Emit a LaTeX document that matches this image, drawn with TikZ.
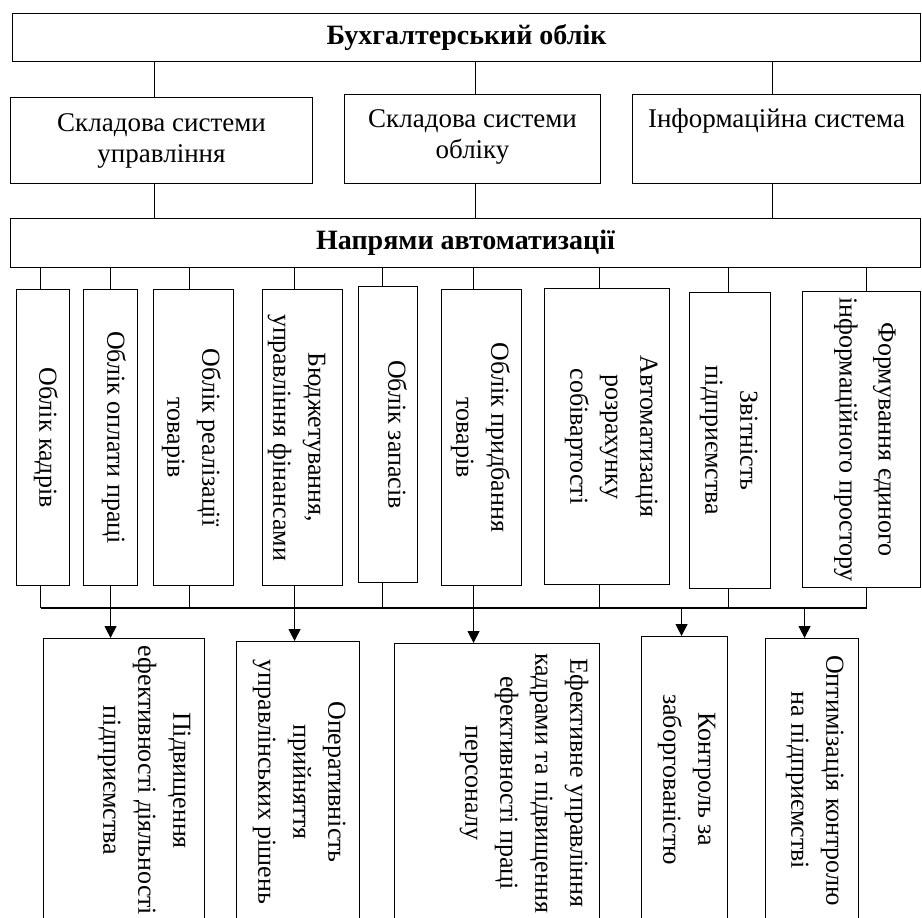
\documentclass[tikz,border=0pt]{standalone}
\usepackage{fontspec}
\setmainfont{Liberation Serif}
\usetikzlibrary{arrows.meta}
\newcommand{\vlab}[1]{\rotatebox{-90}{\begin{tabular}{@{}c@{}}#1\end{tabular}}}
\newcommand{\hlab}[1]{\begin{tabular}[t]{@{}c@{}}#1\end{tabular}}
\begin{document}
\begin{tikzpicture}[x=1pt,y=-1pt,
  every node/.style={inner sep=0pt, font=\fontsize{26}{35}\selectfont},
  box/.style={draw, line width=1.1pt, anchor=north west},
  sz/.style 2 args={minimum width=#1pt, minimum height=#2pt},
  bold/.style={font=\fontsize{28}{32}\bfseries\selectfont},
  vt/.style={anchor=east},
  ln/.style={line width=1.1pt},
  arr/.style={line width=1.1pt, -{Triangle[length=12pt,width=12pt]}}]
\useasboundingbox (0,0) rectangle (922,918);
\clip (0,0) rectangle (922,918);

% top
\node[box, sz={908}{48}, bold] (top) at (12,13) {Бухгалтерський облік};

% second row
\node[box, sz={302}{86}] (r1) at (10,97) {};
\node[box, sz={256}{89}] (r2) at (344,94) {};
\node[box, sz={288}{89}] (r3) at (632,94) {};
\node[anchor=base, font=\fontsize{27}{31}\selectfont] (r1t) at ([yshift=-34pt]r1.north) {\hlab{Складова системи\\управління}};
\node[anchor=base, font=\fontsize{27}{31}\selectfont] (r2t) at ([yshift=-33pt]r2.north) {\hlab{Складова системи\\обліку}};
\node[anchor=base, font=\fontsize{27}{31}\selectfont] (r3t) at ([yshift=-33pt]r3.north) {\hlab{Інформаційна система}};

% directions
\node[box, sz={910}{49}, bold] (dir) at (10,218) {Напрями автоматизації};

\draw[ln] ([xshift=-7pt]r1.north) -- ([xshift=-7pt]r1.north |- top.south);
\draw[ln] ([xshift=3pt]r2.north) -- ([xshift=3pt]r2.north |- top.south);
\draw[ln] ([xshift=-4pt]r3.north) -- ([xshift=-4pt]r3.north |- top.south);
\draw[ln] ([xshift=-7pt]r1.south) -- ([xshift=-7pt]r1.south |- dir.north);
\draw[ln] ([xshift=3pt]r2.south) -- ([xshift=3pt]r2.south |- dir.north);
\draw[ln] ([xshift=-4pt]r3.south) -- ([xshift=-4pt]r3.south |- dir.north);

% vertical boxes
\node[box, sz={53}{296}] (v1) at (16,289) {};
\node[box, sz={54}{296}] (v2) at (83,289) {};
\node[box, sz={80}{296}] (v3) at (153,289) {};
\node[box, sz={80}{296}] (v4) at (262,289) {};
\node[box, sz={59}{296}] (v5) at (358,286) {};
\node[box, sz={80}{296}] (v6) at (441,289) {};
\node[box, sz={125}{296}] (v7) at (544,288) {};
\node[box, sz={81}{296}] (v8) at (689,292) {};
\node[box, sz={118}{296}] (v9) at (802,291) {};

\node[vt] (v1t) at ([xshift=-6pt]v1.east) {\vlab{Облік кадрів}};
\node[vt] (v2t) at ([xshift=-6pt]v2.east) {\vlab{Облік оплати праці}};
\node[vt] (v3t) at ([xshift=-7pt]v3.east) {\vlab{Облік реалізації\\товарів}};
\node[vt] (v4t) at ([xshift=-10pt]v4.east) {\vlab{Бюджетування,\\управління фінансами}};
\node[vt] (v5t) at ([xshift=-5pt]v5.east) {\vlab{Облік запасів}};
\node[vt] (v6t) at ([xshift=-6pt]v6.east) {\vlab{Облік придбання\\товарів}};
\node[vt] (v7t) at ([xshift=-5pt]v7.east) {\vlab{Автоматизація\\розрахунку\\собівартості}};
\node[vt] (v8t) at ([xshift=-6pt]v8.east) {\vlab{Звітність\\підприємства}};
\node[vt, font=\fontsize{26}{39}\selectfont] (v9t) at ([xshift=-15pt]v9.east) {\vlab{Формування єдиного\\інформаційного простору}};

\coordinate (bus) at (0,608);
\foreach \n/\s in {v1/-2.5,v2/0,v3/-4,v4/-8,v5/-5.5,v6/-8,v7/-7.5,v8/-1.5,v9/5}{
  \draw[ln] ([xshift=\s pt]\n.north) -- ([xshift=\s pt]\n.north |- dir.south);
  \draw[ln] ([xshift=\s pt]\n.south) -- ([xshift=\s pt]\n.south |- bus);
}
\draw[ln] ([xshift=-2.5pt]v1.south |- bus) -- ([xshift=5pt]v9.south |- bus);

% outcome boxes
\node[box, sz={161}{284}] (oA) at (43,638) {};
\node[box, sz={123}{281}] (oB) at (236,641) {};
\node[box, sz={205}{279}] (oC) at (394,643) {};
\node[box, sz={86}{286}] (oD) at (641,636) {};
\node[box, sz={93}{284}] (oE) at (765,638) {};

\node[vt] (oAt) at ([xshift=-7pt]oA.east) {\vlab{Підвищення\\ефективності діяльності\\підприємства}};
\node[vt] (oBt) at ([xshift=-7pt]oB.east) {\vlab{Оперативність\\прийняття\\управлінських рішень}};
\node[vt] (oCt) at ([xshift=-5pt]oC.east) {\vlab{Ефективне управління\\кадрами та підвищення\\ефективності праці\\персоналу}};
\node[vt] (oDt) at ([xshift=-5pt]oD.east) {\vlab{Контроль за\\заборгованістю}};
\node[vt] (oEt) at ([xshift=-8pt]oE.east) {\vlab{Оптимізація контролю\\на підприємстві}};

\foreach \n/\s in {oA/-13.5,oB/-3.5,oC/-23.5,oD/-3,oE/-7.5}{
  \draw[arr] ([xshift=\s pt]\n.north |- bus) -- ([xshift=\s pt]\n.north);
}
\end{tikzpicture}
\end{document}
